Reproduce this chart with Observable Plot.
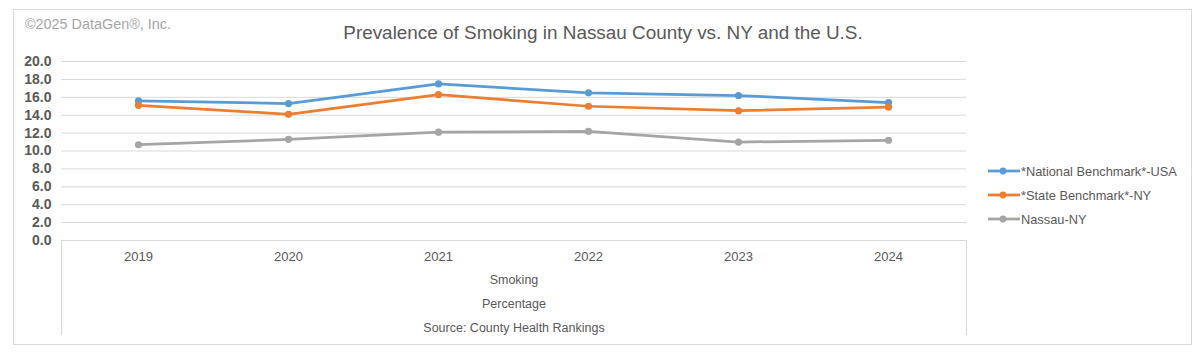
<!DOCTYPE html>
<html>
<head>
<meta charset="utf-8">
<script src="https://cdn.jsdelivr.net/npm/d3@7"></script>
<script src="https://cdn.jsdelivr.net/npm/@observablehq/plot@0.6"></script>
<style>
  html, body { margin: 0; padding: 0; background: #fff; }
  #wrap { position: relative; width: 1203px; height: 355px; background: #fff; font-family: "Liberation Sans", Arial, sans-serif; overflow: hidden; }
  .abs { position: absolute; }
  .lbl { position: absolute; left: 62px; width: 904px; text-align: center; font-size: 12.5px; color: #595959; line-height: 1; }
  .leg { position: absolute; left: 988px; height: 16px; display: flex; align-items: center; font-size: 12.8px; color: #595959; }
</style>
</head>
<body>
<div id="wrap">
  <div class="abs" style="left:13px;top:9px;width:1177px;height:334px;border:1px solid #d9d9d9;"></div>
  <div class="abs" style="left:25px;top:16px;font-size:14.4px;color:#a6a6a6;">©2025 DataGen®, Inc.</div>
  <div class="abs" style="left:0;width:1206px;top:22px;text-align:center;font-size:18.9px;color:#595959;">Prevalence of Smoking in Nassau County vs. NY and the U.S.</div>
  <div id="chart" class="abs" style="left:0;top:0;"></div>
  <div class="abs" style="left:61px;top:240px;width:1px;height:95px;background:#d9d9d9;"></div>
  <div class="abs" style="left:966px;top:240px;width:1px;height:95px;background:#d9d9d9;"></div>
  <div class="lbl" style="top:274px;">Smoking</div>
  <div class="lbl" style="top:298px;">Percentage</div>
  <div class="lbl" style="top:322px;">Source: County Health Rankings</div>
  <div id="legend"></div>
</div>
<script>
const years = ["2019", "2020", "2021", "2022", "2023", "2024"];
const seriesNames = ["*National Benchmark*-USA", "*State Benchmark*-NY", "Nassau-NY"];
const seriesColors = ["#5b9bd5", "#ed7d31", "#a5a5a5"];
const nationalUSA = [15.6, 15.3, 17.5, 16.5, 16.2, 15.4];
const stateNY = [15.1, 14.1, 16.3, 15.0, 14.5, 14.9];
const nassauNY = [10.7, 11.3, 12.1, 12.2, 11.0, 11.2];
const yTicks = [0, 2, 4, 6, 8, 10, 12, 14, 16, 18, 20];

const seriesValues = [nationalUSA, stateNY, nassauNY];
const data = [];
seriesNames.forEach((s, i) => years.forEach((y, j) => data.push({series: s, year: y, value: seriesValues[i][j]})));

const chart = Plot.plot({
  width: 1203,
  height: 355,
  marginTop: 61,
  marginBottom: 115,
  marginLeft: 61,
  marginRight: 239,
  style: { fontFamily: "'Liberation Sans', Arial, sans-serif", background: "transparent", overflow: "visible" },
  x: { type: "point", domain: years, padding: 0.5, label: null },
  y: { domain: [0, 20], ticks: yTicks, label: null },
  color: { domain: seriesNames, range: seriesColors },
  marks: [
    Plot.gridY(yTicks, { stroke: "#d9d9d9", strokeOpacity: 1, strokeWidth: 1, insetRight: -2 }),
    Plot.ruleY([0], { stroke: "#d9d9d9", strokeWidth: 1, insetRight: -2 }),
    Plot.axisY(yTicks, { tickSize: 0, tickPadding: 10, tickFormat: d => d.toFixed(1), fontSize: 14, fontWeight: "bold", fill: "#595959", label: null }),
    Plot.axisX({ tickSize: 0, tickPadding: 11, fontSize: 13, fill: "#595959", label: null }),
    Plot.line(data, { x: "year", y: "value", z: "series", stroke: "series", strokeWidth: 2.75, curve: "linear" }),
    Plot.dot(data, { x: "year", y: "value", fill: "series", r: 3.6 })
  ]
});
document.getElementById("chart").appendChild(chart);

const legend = document.getElementById("legend");
const legendTops = [163, 187, 211];
seriesNames.forEach((s, i) => {
  const row = document.createElement("div");
  row.className = "leg";
  row.style.top = legendTops[i] + "px";
  row.innerHTML = `<svg width="33" height="16" style="display:block"><line x1="0" x2="32" y1="8" y2="8" stroke="${seriesColors[i]}" stroke-width="2.75"/><circle cx="15" cy="8" r="3.4" fill="${seriesColors[i]}"/></svg><span>${s}</span>`;
  legend.appendChild(row);
});
</script>
</body>
</html>
